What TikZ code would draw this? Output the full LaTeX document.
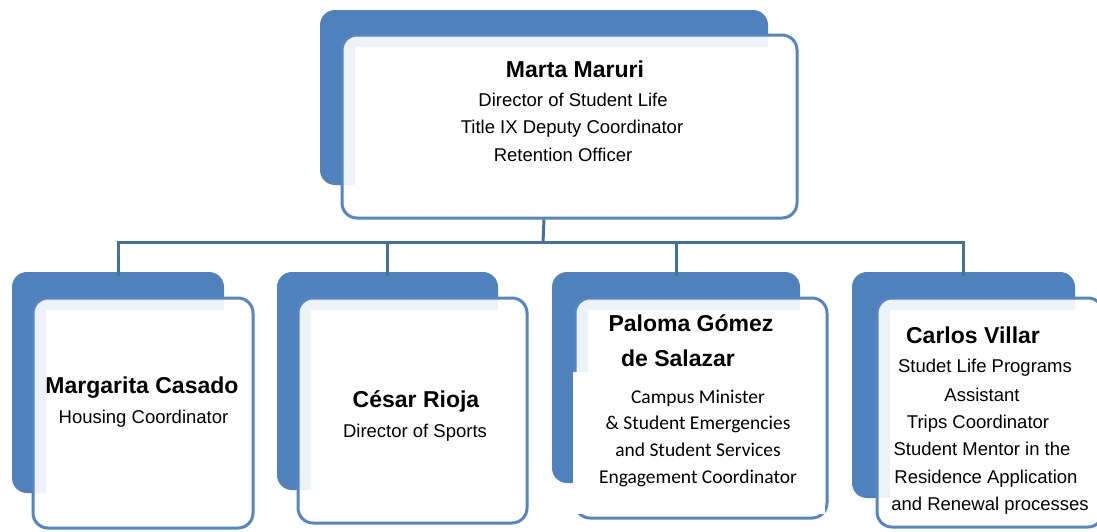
\documentclass[tikz,border=0pt]{standalone}
\usepackage{fontspec}
\usetikzlibrary{calc}
\setmainfont{Liberation Sans}
\newfontfamily\calibri{Carlito}
\definecolor{boxblue}{HTML}{4F81BD}
\definecolor{edgeblue}{HTML}{5585C2}
\definecolor{linkblue}{HTML}{44709F}
\begin{document}
\begin{tikzpicture}[x=1pt,y=-1pt,
  backbox/.style={fill=boxblue,draw=none,rounded corners=15pt,inner sep=0pt},
  frontbox/.style={fill=white,fill opacity=0.9,draw=edgeblue,draw opacity=1,line width=3pt,rounded corners=15pt,inner sep=0pt},
  innerwhite/.style={fill=white},
  conn/.style={draw=linkblue,line width=3pt},
  namet/.style={anchor=base,inner sep=0pt,font=\fontsize{23}{27}\selectfont\bfseries},
  rolet/.style={anchor=base,inner sep=0pt,font=\fontsize{18.5}{27}\selectfont},
  rolec/.style={anchor=base,inner sep=0pt,font=\calibri\fontsize{19.5}{27}\selectfont}]
\useasboundingbox (0,0) rectangle (1097,531);
\begin{scope}
\clip (0,0) rectangle (1097,531);
% back boxes
\node[backbox,minimum width=448pt,minimum height=175pt] (topback) at (544,97.5) {};
\node[backbox,minimum width=212pt,minimum height=221pt] (b1back) at (118,382.5) {};
\node[backbox,minimum width=221pt,minimum height=218pt] (b2back) at (387.5,381) {};
\node[backbox,minimum width=248pt,minimum height=211pt] (b3back) at (676,377.5) {};
\node[backbox,minimum width=223pt,minimum height=226pt] (b4back) at (963.5,385) {};
% front boxes
\node[frontbox,minimum width=455pt,minimum height=183pt] (topfront) at (569.5,126.5) {};
\node[frontbox,minimum width=220pt,minimum height=230pt] (b1front) at (143,413) {};
\node[frontbox,minimum width=229pt,minimum height=225pt] (b2front) at (412.5,410.5) {};
\node[frontbox,minimum width=252pt,minimum height=220pt] (b3front) at (701,408) {};
\node[frontbox,minimum width=226pt,minimum height=229pt] (b4front) at (990,412.5) {};
% inner white panels
\fill[innerwhite] ($(topfront.north west)+(14,13)$) rectangle ($(topfront.south east)+(-14,-13)$);
\fill[innerwhite] ($(b1front.north west)+(14,13)$) rectangle ($(b1front.south east)+(-14,-13)$);
\fill[innerwhite] ($(b2front.north west)+(14,13)$) rectangle ($(b2front.south east)+(-14,-13)$);
\fill[innerwhite] ($(b3front.north west)+(14,13)$) rectangle ($(b3front.north east)+(-14,75)$);
\fill[innerwhite] ($(b3front.north west)+(-1,75)$) rectangle ($(b3front.south east)+(-4,-6)$);
\fill[innerwhite] ($(b4front.north west)+(14,13)$) rectangle ($(b4front.south east)+(-14,-13)$);
% connectors
\coordinate (bus) at (543,242);
\draw[conn] (topback.center |- topfront.south) -- (bus);
\draw[conn] (bus) -| ([yshift=-4pt]b1back.north);
\draw[conn] (bus) -| ([yshift=-4pt]b2back.north);
\draw[conn] (bus) -| ([yshift=-4pt]b3back.north);
\draw[conn] (bus) -| ([yshift=-4pt]b4back.north);
% top texts
\node[namet] (t0) at (575,77) {Marta Maruri};
\node[rolet] (t1) at (573,106) {Director of Student Life};
\node[rolet] (t2) at (572,133) {Title IX Deputy Coordinator};
\node[rolet] (t3) at (563,161) {Retention Officer};
% box 1
\node[namet] (m0) at (142,393) {Margarita Casado};
\node[rolet] (m1) at (143.5,423) {Housing Coordinator};
% box 2
\node[namet] (c0) at (416,407) {César Rioja};
\node[rolet] (c1) at (415,437) {Director of Sports};
% box 3
\node[namet] (p0) at (691,331) {Paloma Gómez};
\node[namet] (p1) at (678,366) {de Salazar};
\node[rolec] (p2) at (698,403) {Campus Minister};
\node[rolec] (p3) at (698,429) {\& Student Emergencies};
\node[rolec] (p4) at (698,456) {and Student Services};
\node[rolec] (p5) at (698,483) {Engagement Coordinator};
% box 4
\node[namet] (v0) at (973,343) {Carlos Villar};
\node[rolet] (v1) at (985,372) {Studet Life Programs};
\node[rolet] (v2) at (982,401) {Assistant};
\node[rolet] (v3) at (978,428) {Trips Coordinator};
\node[rolet] (v4) at (982,455) {Student Mentor in the};
\node[rolet] (v5) at (986,483) {Residence Application};
\node[rolet] (v6) at (990,510) {and Renewal processes};
\end{scope}
\end{tikzpicture}
\end{document}
